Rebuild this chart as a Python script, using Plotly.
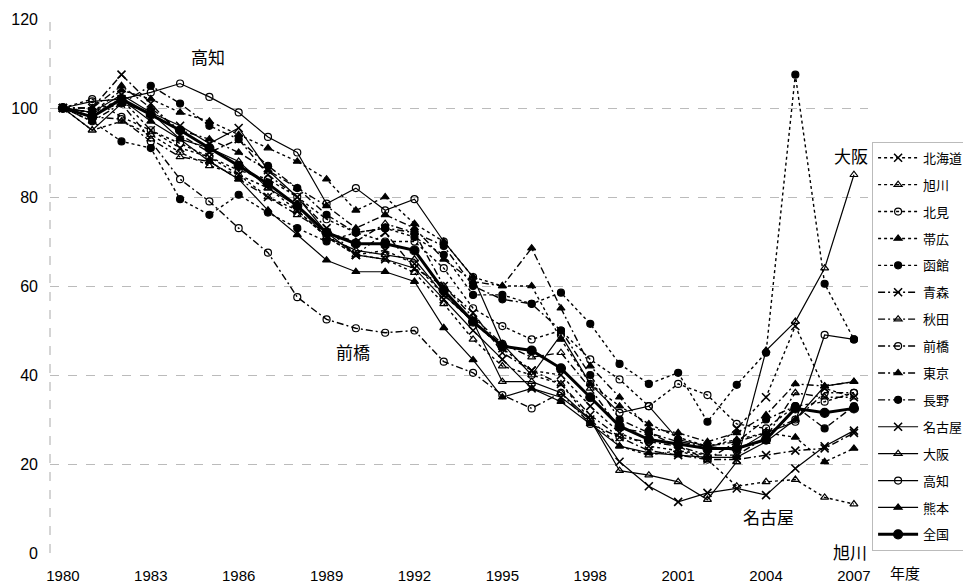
import plotly.graph_objects as go

years = list(range(1980, 2008))
tick_years = [1980, 1983, 1986, 1989, 1992, 1995, 1998, 2001, 2004, 2007]
y_ticks = [0, 20, 40, 60, 80, 100, 120]

hokkaido = [100, 99, 102, 95, 91, 89, 85, 80, 77, 71, 67, 68, 65, 58, 52, 46, 41, 40, 33, 27, 24, 23, 22, 28, 35, 51, 37, 35]
asahikawa = [100, 95, 97, 94, 90, 87, 85, 82, 77, 71, 67, 66, 63, 56, 48, 42, 40, 38, 30, 24, 22, 23, 21, 15, 16, 16.5, 12.5, 11]
kitami = [100, 102, 98, 95, 92, 89, 86, 84, 80, 75, 72, 70, 70, 64, 55, 51, 48, 50, 43.5, 39, 33, 38, 35.5, 29, 28, 33, 34, 36]
obihiro = [100, 99, 104, 102, 99, 97, 94, 91, 88, 84, 77, 80, 74, 70, 62, 60, 60, 48, 38, 33, 29, 26, 24, 25.5, 27, 26, 20.5, 23.5]
hakodate = [100, 97, 92.5, 91, 79.5, 76, 80.5, 76.5, 73, 70, 72, 73, 71, 67, 58, 58, 56, 58.5, 51.5, 42.5, 38, 40.5, 29.5, 37.8, 45, 107.5, 60.5, 48]
aomori = [100, 100, 107.5, 101, 94, 90, 93, 85, 80, 73, 67, 72, 64, 60, 54, 45, 41, 38, 31, 26, 23, 22, 21, 21, 22, 23, 23.5, 27]
akita = [100, 97, 101, 93, 89, 88, 84, 80, 76, 72, 70, 74, 72, 60, 53, 47, 44, 45, 37, 28, 27, 24, 22, 22, 26, 36, 35, 35]
maebashi = [100, 98, 97.5, 92.5, 84, 79, 73, 67.5, 57.5, 52.5, 50.5, 49.5, 50, 43, 40.5, 35.5, 32.5, 36, 29, 26, 25, 24, 21, 25, 27, 30, 36, 36]
tokyo = [100, 100, 105, 100, 95, 93, 90, 86, 82, 78, 73, 76, 73, 66, 61, 60, 68.5, 55, 42, 35, 28, 27, 25, 27, 31, 38, 37.5, 38.5]
nagano = [100, 99, 101, 105, 101, 96, 93, 87, 82, 76, 72, 73, 72, 69, 60, 57, 56, 50, 40, 30, 27, 25, 24, 25, 30, 33, 28, 33]
nagoya = [100, 99, 103, 99, 96, 92, 95.5, 86, 80, 72, 67, 66, 64, 57, 50, 43.5, 37, 35, 30, 20.5, 15, 11.5, 13.5, 14.5, 13, 19, 24, 27.5]
osaka = [100, 95, 101, 99, 93, 91, 88, 82, 78, 71, 68, 67, 66, 58, 52, 38.5, 38.5, 36, 30, 18.5, 17.5, 16, 12, 20.5, 45.5, 52, 64, 85]
kochi = [100, 101.5, 102, 103.5, 105.5, 102.5, 99, 93.5, 90, 78.5, 82, 77, 79.5, 70, 62, 47, 40, 49, 38, 31.5, 33, 25.5, 24, 23, 27, 29.5, 49, 48]
kumamoto = [100, 98, 102, 97, 93, 88, 84, 77, 71.5, 65.8, 63.2, 63.2, 61, 50.6, 43.4, 35, 37, 34, 29, 24, 22.5, 22, 21.5, 21.5, 25, 30, 37.5, 38.5]
zenkoku = [100, 98, 102, 98.5, 95, 91, 87, 83, 78, 72, 69.5, 69.5, 68, 59, 52, 46.5, 45.5, 41.5, 35, 28.5, 25.5, 24.5, 23.5, 23.5, 25.5, 32.5, 31.5, 32.5]

names = ["北海道", "旭川", "北見", "帯広", "函館", "青森", "秋田", "前橋", "東京", "長野",
         "名古屋", "大阪", "高知", "熊本", "全国"]
series = [hokkaido, asahikawa, kitami, obihiro, hakodate, aomori, akita, maebashi, tokyo, nagano,
          nagoya, osaka, kochi, kumamoto, zenkoku]

symbols = ["x-thin", "triangle-up-open", "circle-open", "triangle-up", "circle"] * 3
dot = "dot"
dashdot = "7px,3px,2px,3px"
dashes = [dot] * 5 + [dashdot] * 5 + ["solid"] * 5

fig = go.Figure()
for i, (nm, vals) in enumerate(zip(names, series)):
    sym = symbols[i]
    is_total = nm == "全国"
    size = 9 if is_total else 7
    if sym == "x-thin":
        size = 8
    mline = 1.6 if sym == "x-thin" else 1.2
    fig.add_trace(go.Scatter(
        x=years, y=vals, name=nm, mode="lines+markers",
        legendgroup=nm,
        line=dict(color="black", width=3 if is_total else (1.4 if dashes[i] != "solid" else 1.2),
                  dash=dashes[i]),
        marker=dict(symbol=sym, size=size, color="black",
                    line=dict(color="black", width=mline)),
    ))

ann_font = dict(family="Noto Sans CJK JP", size=17, color="black")
labels = [("高知", 1984.95, 111.5), ("前橋", 1989.9, 45.2), ("名古屋", 2004.1, 8.1),
          ("旭川", 2006.85, 0.3), ("大阪", 2006.9, 89.4)]
annotations = [dict(text=t, x=x, y=y, xref="x", yref="y", showarrow=False, font=ann_font)
               for t, x, y in labels]
annotations.append(dict(text="年度", x=1.045, y=-0.036, xref="paper", yref="paper",
                        showarrow=False, xanchor="center", yanchor="middle",
                        font=dict(family="Noto Sans CJK JP", size=15, color="black")))

fig.update_layout(
    width=963, height=579,
    margin=dict(l=42, r=103, t=11, b=34, autoexpand=False),
    paper_bgcolor="white", plot_bgcolor="white",
    font=dict(family="Liberation Sans", size=15, color="black"),
    showlegend=True,
    legend=dict(x=1.005, y=0.77, xanchor="left", yanchor="top",
                bordercolor="#bbbbbb", borderwidth=1, bgcolor="white",
                font=dict(family="Noto Sans CJK JP", size=13, color="black"),
                tracegroupgap=7.0, itemwidth=40),
    annotations=annotations,
    shapes=[dict(type="line", xref="paper", yref="y", x0=0, x1=0, y0=0, y1=120,
                 line=dict(color="#aaaaaa", width=1, dash="dash"))],
)
fig.update_xaxes(range=[1979.56, 2007.48], tickvals=tick_years, showgrid=False,
                 zeroline=False, showline=False, ticks="", ticklabelstandoff=12,
                 automargin=False, tickfont=dict(family="Liberation Sans", size=15))
fig.update_yaxes(range=[0, 120], tickvals=y_ticks, showgrid=True, gridcolor="#bbbbbb",
                 griddash="dash", gridwidth=1, zeroline=False, showline=False, ticks="",
                 automargin=False, ticklabelstandoff=11,
                 tickfont=dict(family="Liberation Sans", size=16))

fig.write_html("out.html")
